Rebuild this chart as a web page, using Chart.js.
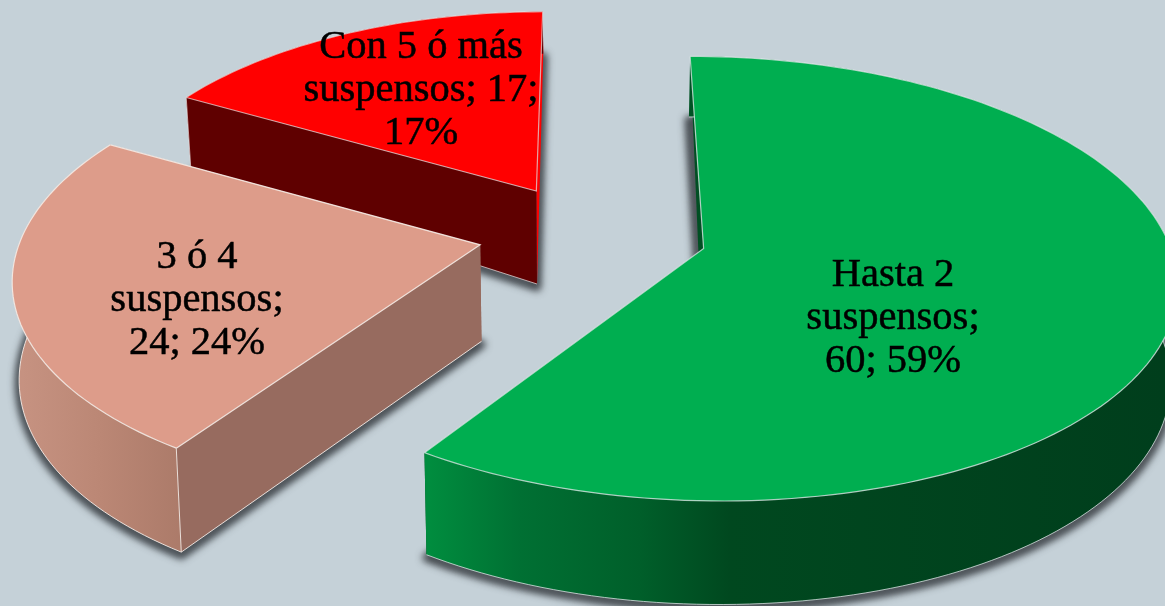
<!DOCTYPE html>
<html>
<head>
<meta charset="utf-8">
<script src="https://cdn.jsdelivr.net/npm/chart.js@4"></script>
<style>
  html, body { margin: 0; padding: 0; background: #c5d1d8; overflow: hidden; }
  canvas { display: block; }
</style>
</head>
<body>
<canvas id="pieChart" width="1165" height="606"></canvas>
<script>
const categories = ['Hasta 2 suspensos', '3 ó 4 suspensos', 'Con 5 ó más suspensos'];
const values = [60, 24, 17];
const labelLines = [
    ['Hasta 2', 'suspensos;', '60; 59%'],
    ['3 ó 4', 'suspensos;', '24; 24%'],
    ['Con 5 ó más', 'suspensos; 17;', '17%']
];
const topColors = ['#00ae50', '#dd9c8a', '#ff0000'];
const edgeColors = ['rgba(225,235,235,0.75)', 'rgba(245,235,230,0.9)', 'rgba(235,225,225,0.7)'];

// camera for the tilted pie
const view = { cx: 591, cy: 233, fx: 477, fy: 214, p: 0.135, bottomScale: 0.988 };
const sliceOffsets = [66, 64, 63];
const sliceSqueeze = [0.97, 0.96, 0.93];
const sliceDepth = [0.98, 1, 1];
const labelCenters = [[893, 318], [197, 300], [421, 90]];

function depthAt(Y) { return 96 + 9 * Y - (Y < 0 ? 30 * Y * Y : 0); }

function project(X, Y, depth) {
    const w = 1 - view.p * Y;
    if (!depth) return [view.cx + view.fx * X / w, view.cy + view.fy * Y / w];
    return [
        view.cx + view.bottomScale * view.fx * X / w,
        view.cy + view.fy * Y / w + depth * depthAt(Y)
    ];
}

// ground plane outline of one slice, read from the arc element
function sliceGeometry(arc, squeeze) {
    const R = arc.outerRadius;
    const mid = (arc.startAngle + arc.endAngle) / 2;
    const ox = Math.cos(mid) * arc.options.offset / R;
    const oy = Math.sin(mid) * arc.options.offset / R;
    const rim = [];
    const steps = Math.ceil((arc.endAngle - arc.startAngle) * 40);
    for (let i = 0; i <= steps; i++) {
        const a = arc.startAngle + (arc.endAngle - arc.startAngle) * i / steps;
        rim.push([ox + squeeze * Math.cos(a), oy + Math.sin(a)]);
    }
    return { apex: [ox, oy], rim };
}

function tracePath(ctx, pts) {
    ctx.beginPath();
    pts.forEach((p, i) => i ? ctx.lineTo(p[0], p[1]) : ctx.moveTo(p[0], p[1]));
}

function poly(ctx, pts, fill) {
    tracePath(ctx, pts);
    ctx.closePath();
    ctx.fillStyle = fill;
    ctx.fill();
}

function line(ctx, pts, color, width) {
    tracePath(ctx, pts);
    ctx.strokeStyle = color;
    ctx.lineWidth = width;
    ctx.stroke();
}

// ground shadow: the shape itself is painted off canvas, only its blur lands here
function groundShadow(ctx, pts) {
    ctx.save();
    ctx.shadowColor = 'rgba(55,60,65,0.8)';
    ctx.shadowBlur = 7;
    ctx.shadowOffsetX = 3000;
    ctx.shadowOffsetY = 3;
    tracePath(ctx, pts.map(p => [p[0] - 3000, p[1]]));
    ctx.closePath();
    ctx.fillStyle = '#000';
    ctx.strokeStyle = '#000';
    ctx.lineWidth = 9;
    ctx.lineJoin = 'round';
    ctx.fill();
    ctx.stroke();
    ctx.restore();
}

function hGradient(ctx, stops) {
    const g = ctx.createLinearGradient(stops[0][0], 0, stops[stops.length - 1][0], 0);
    const span = stops[stops.length - 1][0] - stops[0][0];
    stops.forEach(s => g.addColorStop((s[0] - stops[0][0]) / span, s[1]));
    return g;
}

const pie3d = {
    id: 'pie3d',
    beforeDatasetsDraw(chart) {
        const ctx = chart.ctx;
        const arcs = chart.getDatasetMeta(0).data;
        const rimFill = [
            hGradient(ctx, [[430, '#008c3e'], [520, '#007033'], [640, '#005f2a'], [730, '#00481f'], [1165, '#003e1c']]),
            hGradient(ctx, [[15, '#c79382'], [100, '#bb8775'], [185, '#ab7a69']]),
            '#5f0000'
        ];
        const cutStart = ['#004f23', '#976b5f', '#5f0000'];
        const cutEnd = ['#00481f', '#976b5f', '#ff0000'];

        [2, 1, 0].forEach(i => {
            const g = sliceGeometry(arcs[i], sliceSqueeze[i]);
            const d = sliceDepth[i];
            const top = g.rim.map(p => project(p[0], p[1], 0));
            const low = g.rim.map(p => project(p[0], p[1], d));
            const A = project(g.apex[0], g.apex[1], 0);
            const B = project(g.apex[0], g.apex[1], d);
            const n = top.length - 1;
            const rimWall = top.concat(low.slice().reverse());
            const endWall = [A, top[n], low[n], B];
            // the far cut of the big slice only shows as a thin tapered sliver
            const startWall = i === 0 ? [A, top[0], B] : [A, top[0], low[0], B];
            const face = [A].concat(top);

            groundShadow(ctx, [B].concat(low));

            poly(ctx, endWall, cutEnd[i]);
            if (i === 0) poly(ctx, startWall, cutStart[i]);
            poly(ctx, rimWall, rimFill[i]);
            if (i !== 0) poly(ctx, startWall, cutStart[i]);
            if (i !== 2) line(ctx, low, edgeColors[i], 1);
            if (i !== 0) {
                line(ctx, [low[0], B], edgeColors[i], 1);
                line(ctx, [top[0], low[0]], edgeColors[i], 1);
            }

            poly(ctx, face, topColors[i]);
            line(ctx, top, edgeColors[i], 1.2);
            line(ctx, [top[n], A, top[0]], edgeColors[i], 1.2);
        });
        return false;
    },
    afterDraw(chart) {
        const ctx = chart.ctx;
        ctx.save();
        ctx.font = '40.5px "Liberation Serif"';
        ctx.fillStyle = '#000';
        ctx.strokeStyle = '#000';
        ctx.lineWidth = 0.5;
        ctx.textAlign = 'center';
        ctx.textBaseline = 'middle';
        labelLines.forEach((lines, i) => {
            lines.forEach((text, j) => {
                const y = labelCenters[i][1] + (j - 1) * 43;
                ctx.fillText(text, labelCenters[i][0], y);
                ctx.strokeText(text, labelCenters[i][0], y);
            });
        });
        ctx.restore();
    }
};

new Chart(document.getElementById('pieChart'), {
    type: 'pie',
    data: {
        labels: categories,
        datasets: [{
            data: values,
            backgroundColor: topColors,
            offset: sliceOffsets,
            borderWidth: 0
        }]
    },
    options: {
        responsive: false,
        animation: false,
        rotation: 0,
        events: [],
        plugins: { legend: { display: false }, tooltip: { enabled: false } }
    },
    plugins: [pie3d]
});
</script>
</body>
</html>
